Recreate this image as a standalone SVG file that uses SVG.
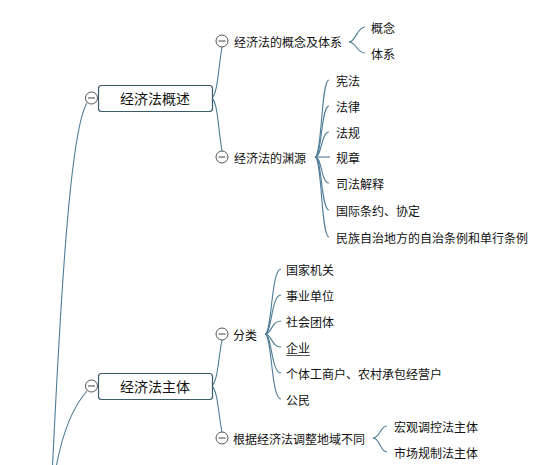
<svg xmlns="http://www.w3.org/2000/svg" width="558" height="465" viewBox="0 0 558 465">
<style>
.t{font-family:"Noto Sans CJK SC","Liberation Sans",sans-serif;font-size:12px;fill:#111;dominant-baseline:central}
.tb{font-family:"Noto Sans CJK SC","Liberation Sans",sans-serif;font-size:14px;fill:#111;dominant-baseline:central;text-anchor:middle}
.box{fill:#fff;stroke:#3b5b6b;stroke-width:1.2}
.c{fill:#fff;stroke:#555;stroke-width:1}
.m{stroke:#444;stroke-width:1}
.ln{fill:none;stroke:#4f7d97;stroke-width:1.1}
</style>
<rect width="558" height="465" fill="#fff"/>
<g id="connectors">
<path class="ln" d="M87,103 C70,130 60,300 50,520"/>
<path class="ln" d="M87,391 C70,410 60,440 54,480"/>
<path class="ln" d="M212,98 C218,92 218,70 222,47"/>
<path class="ln" d="M212,98 C218,104 218,128 222,151"/>
<path class="ln" d="M212,386 C218,380 218,360 222,340"/>
<path class="ln" d="M212,386 C218,392 218,412 222,432"/>
<path class="ln" d="M349,42 C356,42 357,27 365,27"/>
<path class="ln" d="M349,42 C356,42 357,53 365,53"/>
<path class="ln" d="M315,157 C322,157 321,80 329,80"/>
<path class="ln" d="M315,157 C322,157 321,106 329,106"/>
<path class="ln" d="M315,157 C322,157 321,132 329,132"/>
<path class="ln" d="M316,157 L330,157"/>
<path class="ln" d="M315,157 C322,157 321,183 329,183"/>
<path class="ln" d="M315,157 C322,157 321,210 329,210"/>
<path class="ln" d="M315,157 C322,157 321,237 329,237"/>
<path class="ln" d="M265,334 C272,334 271,269 281,269"/>
<path class="ln" d="M265,334 C272,334 271,295 281,295"/>
<path class="ln" d="M265,334 C272,334 271,321 281,321"/>
<path class="ln" d="M265,334 C272,334 271,347 281,347"/>
<path class="ln" d="M265,334 C272,334 271,373 281,373"/>
<path class="ln" d="M265,334 C272,334 271,399 281,399"/>
<path class="ln" d="M373,438 C380,438 380,426 387,426"/>
<path class="ln" d="M373,438 C380,438 380,452 387,452"/>
</g>
<g id="n-gaishu">
<rect class="box" x="98.5" y="85.5" width="114" height="26" rx="3"/>
<text class="tb" x="155" y="98">经济法概述</text>
<circle class="c" cx="91.5" cy="98" r="6"/><line class="m" x1="88" y1="98" x2="95" y2="98"/>
</g>
<g id="n-gainian">
<circle class="c" cx="222" cy="41" r="6"/><line class="m" x1="218.5" y1="41" x2="225.5" y2="41"/>
<text class="t" x="234" y="41">经济法的概念及体系</text>
</g>
<g id="n-gn1"><text class="t" x="371" y="27">概念</text></g>
<g id="n-gn2"><text class="t" x="371" y="53">体系</text></g>
<g id="n-yuanyuan">
<circle class="c" cx="222" cy="157" r="6"/><line class="m" x1="218.5" y1="157" x2="225.5" y2="157"/>
<text class="t" x="234" y="157">经济法的渊源</text>
</g>
<g id="n-y1"><text class="t" x="336" y="80">宪法</text></g>
<g id="n-y2"><text class="t" x="336" y="106">法律</text></g>
<g id="n-y3"><text class="t" x="336" y="132">法规</text></g>
<g id="n-y4"><text class="t" x="336" y="157">规章</text></g>
<g id="n-y5"><text class="t" x="336" y="183">司法解释</text></g>
<g id="n-y6"><text class="t" x="336" y="210">国际条约、协定</text></g>
<g id="n-y7"><text class="t" x="336" y="237">民族自治地方的自治条例和单行条例</text></g>
<g id="n-zhuti">
<rect class="box" x="98.5" y="373.5" width="114" height="26" rx="3"/>
<text class="tb" x="155" y="386">经济法主体</text>
<circle class="c" cx="91.5" cy="386" r="6"/><line class="m" x1="88" y1="386" x2="95" y2="386"/>
</g>
<g id="n-fenlei">
<circle class="c" cx="222" cy="334" r="6"/><line class="m" x1="218.5" y1="334" x2="225.5" y2="334"/>
<text class="t" x="233" y="334">分类</text>
</g>
<g id="n-f1"><text class="t" x="286" y="269">国家机关</text></g>
<g id="n-f2"><text class="t" x="286" y="295">事业单位</text></g>
<g id="n-f3"><text class="t" x="286" y="321">社会团体</text></g>
<g id="n-f4"><text class="t" x="286" y="347">企业</text><line x1="286" y1="355.5" x2="310" y2="355.5" stroke="#333" stroke-width="0.8"/></g>
<g id="n-f5"><text class="t" x="286" y="373">个体工商户、农村承包经营户</text></g>
<g id="n-f6"><text class="t" x="286" y="399">公民</text></g>
<g id="n-genju">
<circle class="c" cx="222" cy="438" r="6"/><line class="m" x1="218.5" y1="438" x2="225.5" y2="438"/>
<text class="t" x="233" y="438">根据经济法调整地域不同</text>
</g>
<g id="n-g1"><text class="t" x="394" y="426">宏观调控法主体</text></g>
<g id="n-g2"><text class="t" x="394" y="452">市场规制法主体</text></g>
</svg>
